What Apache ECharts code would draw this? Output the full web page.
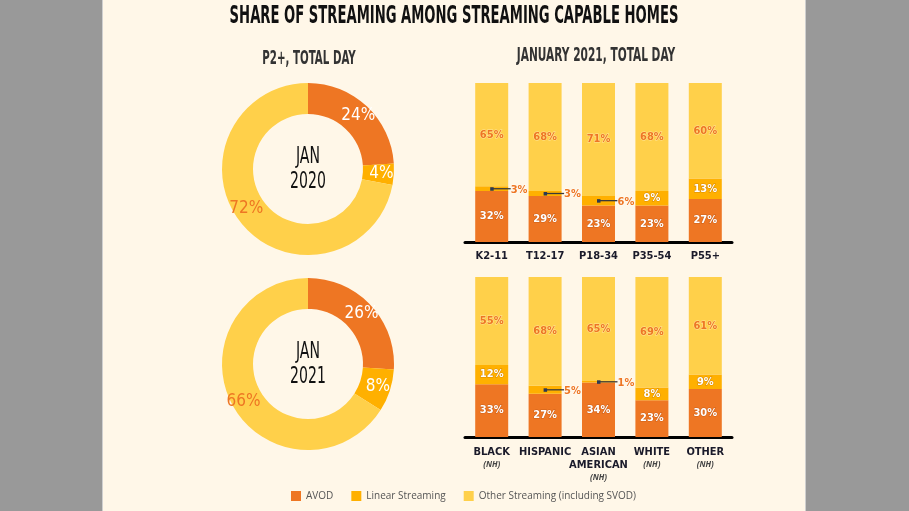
<!DOCTYPE html>
<html><head><meta charset="utf-8">
<script src="https://cdn.jsdelivr.net/npm/echarts@6/dist/echarts.min.js"></script>
<style>html,body{margin:0;padding:0;background:#999;}#c{width:909px;height:511px;}</style>
</head><body><div id="c"></div>
<script>
// ---- data ----
const seriesNames = ['AVOD', 'Linear Streaming', 'Other Streaming (including SVOD)'];
const mainTitle = 'SHARE OF STREAMING AMONG STREAMING CAPABLE HOMES';
const leftSubtitle = 'P2+, TOTAL DAY';
const rightSubtitle = 'JANUARY 2021, TOTAL DAY';
const donutYears = ['2020', '2021'];
const donut2020 = [24, 4, 72];
const donut2021 = [26, 8, 66];

const ageCats = ['K2-11', 'T12-17', 'P18-34', 'P35-54', 'P55+'];
const ageAvod = [32, 29, 23, 23, 27];
const ageLinear = [3, 3, 6, 9, 13];
const ageOther = [65, 68, 71, 68, 60];

const raceCats = ['BLACK', 'HISPANIC', 'ASIAN AMERICAN', 'WHITE', 'OTHER'];
const raceNH = [true, false, true, true, true];
const raceAvod = [33, 27, 34, 23, 30];
const raceLinear = [12, 5, 1, 8, 9];
const raceOther = [55, 68, 65, 69, 61];

// ---- style ----
const C_AVOD = '#EE7623', C_LIN = '#FFB000', C_OTH = '#FFD04A';
const colors = [C_AVOD, C_LIN, C_OTH];
const COND = "'DejaVu Sans Condensed','Liberation Sans Narrow',sans-serif";
const SMALL = 7;

const chart = echarts.init(document.getElementById('c'));

function pieSeries(vals, cy, otherOffset) {
  return {
    type: 'pie', radius: [55, 86], center: [308, cy], startAngle: 90, clockwise: true,
    silent: true, animation: false,
    label: {
      position: 'inside', formatter: '{c}%', fontFamily: COND, fontSize: 17,
      color: '#fff'
    },
    labelLine: { show: false },
    data: vals.map((v, i) => ({
      name: seriesNames[i], value: v,
      itemStyle: { color: colors[i] },
      label: i === 2 ? { color: C_AVOD, offset: otherOffset } : {}
    }))
  };
}

function barSet(gi, avod, lin, oth) {
  const common = { type: 'bar', stack: 's' + gi, xAxisIndex: gi, yAxisIndex: gi, barWidth: 33, animation: false };
  const lab = (col) => ({
    show: true, position: 'inside', fontFamily: COND, fontWeight: 'bold', fontSize: 11,
    color: col, textBorderColor: col === '#fff' ? 'rgba(120,40,0,0.3)' : 'rgba(255,255,255,0.45)', textBorderWidth: 1
  });
  return [
    Object.assign({}, common, { name: seriesNames[0], data: avod, itemStyle: { color: C_AVOD },
      label: Object.assign(lab('#fff'), { formatter: p => p.value + '%' }) }),
    Object.assign({}, common, { name: seriesNames[1], data: lin, itemStyle: { color: C_LIN },
      label: Object.assign(lab('#fff'), { formatter: p => p.value < SMALL ? '' : p.value + '%' }) }),
    Object.assign({}, common, { name: seriesNames[2], data: oth, itemStyle: { color: C_OTH },
      label: Object.assign(lab(C_AVOD), { formatter: p => p.value + '%' }) }),
    {
      type: 'custom', xAxisIndex: gi, yAxisIndex: gi, silent: true, animation: false, z: 10,
      data: lin.map((v, i) => [i, avod[i] + v / 2, v]).filter(d => d[2] < SMALL),
      renderItem: function (params, api) {
        const p = api.coord([api.value(0), api.value(1)]);
        const x = p[0], y = p[1];
        return {
          type: 'group', children: [
            { type: 'line', shape: { x1: x, y1: y, x2: x + 19, y2: y }, style: { stroke: '#3a3a3a', lineWidth: 1.3 } },
            { type: 'rect', shape: { x: x - 1.5, y: y - 1.5, width: 3.5, height: 3.5 }, style: { fill: '#2b3a55' } },
            { type: 'text', style: { text: api.value(2) + '%', x: x + 19, y: y + 1, fill: C_AVOD,
                stroke: 'rgba(255,255,255,0.7)', lineWidth: 1,
                font: 'bold 11px ' + COND, align: 'left', verticalAlign: 'middle', textAlign: 'left', textVerticalAlign: 'middle' } }
          ]
        };
      }
    }
  ];
}

function gText(text, x, y, size, weight, color, sx) {
  return {
    type: 'text', x: x, y: y, scaleX: sx, scaleY: 1, silent: true, z: 100,
    style: { text: text, font: weight + ' ' + size + 'px ' + COND, fill: color,
      textAlign: 'center', textVerticalAlign: 'middle', align: 'center', verticalAlign: 'middle' }
  };
}

const xAxisCommon = {
  type: 'category', axisTick: { show: false },
  axisLine: { lineStyle: { color: '#000', width: 3 } }
};

const option = {
  backgroundColor: '#999999',
  animation: false,
  graphic: [
    { type: 'rect', shape: { x: 102, y: 0, width: 1, height: 511 }, style: { fill: '#cfcfcf' }, silent: true },
    { type: 'rect', shape: { x: 805, y: 0, width: 1, height: 511 }, style: { fill: '#cfcfcf' }, silent: true },
    { type: 'rect', shape: { x: 103, y: 0, width: 702, height: 511 }, style: { fill: '#FFF7E8' }, silent: true, z: -10 },
    gText(mainTitle, 454, 17, 24, 'bold', '#111', 0.61),
    gText(leftSubtitle, 309, 59, 19, 'bold', '#333', 0.6),
    gText(rightSubtitle, 596, 56, 19, 'bold', '#333', 0.62),
    gText('JAN', 308, 157, 23, 'normal', '#111', 0.68),
    gText(donutYears[0], 308, 182, 23, 'normal', '#111', 0.68),
    gText('JAN', 308, 352, 23, 'normal', '#111', 0.68),
    gText(donutYears[1], 308, 377, 23, 'normal', '#111', 0.68)
  ],
  legend: {
    data: seriesNames, left: 286, top: 486, icon: 'rect', itemWidth: 10, itemHeight: 10, itemGap: 18,
    selectedMode: false,
    textStyle: { fontFamily: "'Open Sans',sans-serif", fontSize: 10, color: '#555' }
  },
  grid: [
    { left: 465, width: 267, top: 83, height: 159 },
    { left: 465, width: 267, top: 277, height: 160 }
  ],
  xAxis: [
    Object.assign({}, xAxisCommon, { gridIndex: 0, data: ageCats,
      axisLabel: { interval: 0, margin: 9, fontFamily: COND, fontWeight: 'bold', fontSize: 11, color: '#1a1a2a' } }),
    Object.assign({}, xAxisCommon, { gridIndex: 1, data: raceCats,
      axisLabel: {
        interval: 0, margin: 9, fontFamily: COND, fontWeight: 'bold', fontSize: 11, color: '#1a1a2a', lineHeight: 13,
        formatter: function (v, i) {
          const t = v.replace(' ', '\n');
          return raceNH[i] ? t + '\n{nh|(NH)}' : t;
        },
        rich: { nh: { fontFamily: "'Open Sans',sans-serif", fontStyle: 'italic', fontSize: 8, color: '#444', lineHeight: 11 } }
      } })
  ],
  yAxis: [
    { type: 'value', gridIndex: 0, min: 0, max: 100, show: false },
    { type: 'value', gridIndex: 1, min: 0, max: 100, show: false }
  ],
  series: [
    pieSeries(donut2020, 169, [-5, -7]),
    pieSeries(donut2021, 364, [0, 2]),
    ...barSet(0, ageAvod, ageLinear, ageOther),
    ...barSet(1, raceAvod, raceLinear, raceOther)
  ]
};
chart.setOption(option);
</script></body></html>
